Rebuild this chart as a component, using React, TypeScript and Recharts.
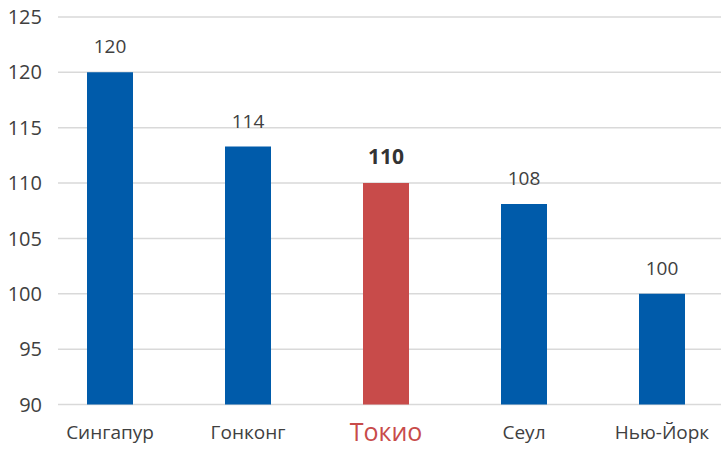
import { BarChart, Bar, XAxis, YAxis, CartesianGrid, Cell, LabelList } from 'recharts'

const cities = ['Сингапур', 'Гонконг', 'Токио', 'Сеул', 'Нью-Йорк']
const values = [120, 113.3, 110, 108.1, 100]
const valueLabels = ['120', '114', '110', '108', '100']
const highlightCity = 'Токио'
const yTicks = [90, 95, 100, 105, 110, 115, 120, 125]

const BLUE = '#005BAA'
const RED = '#C84B4A'
const TEXT = '#404040'
const FONT = '"Open Sans", "Noto Sans", sans-serif'

const chartData = cities.map((city, i) => ({
  city,
  value: values[i],
  label: valueLabels[i],
}))

function CityTick(props: any) {
  const { x, y, payload } = props
  const isHighlight = payload.value === highlightCity
  return (
    <text
      x={x}
      y={isHighlight ? y + 34 : y + 32}
      textAnchor="middle"
      fill={isHighlight ? RED : TEXT}
      fontSize={isHighlight ? 25 : 19}
      fontFamily={FONT}
    >
      {payload.value}
    </text>
  )
}

function ValueLabel(props: any) {
  const { x, y, width, index } = props
  const isHighlight = cities[index] === highlightCity
  return (
    <text
      x={x + width / 2}
      y={y - 19}
      textAnchor="middle"
      fill={isHighlight ? '#333333' : TEXT}
      fontSize={isHighlight ? 21 : 19}
      fontWeight={isHighlight ? 700 : 400}
      fontFamily={FONT}
    >
      {valueLabels[index]}
    </text>
  )
}

export default function App() {
  return (
    <div style={{ position: 'absolute', left: 0, top: 0, width: 721, height: 450, overflow: 'hidden', background: '#fff' }}>
      <BarChart
        width={731}
        height={450}
        data={chartData}
        margin={{ top: 17, right: 0, bottom: 0, left: 0 }}
      >
        <CartesianGrid vertical={false} stroke="#d9d9d9" strokeWidth={1.5} />
        <XAxis
          dataKey="city"
          axisLine={false}
          tickLine={false}
          tickSize={0}
          height={45.5}
          interval={0}
          padding={{ left: -17, right: 0 }}
          tick={<CityTick />}
        />
        <YAxis
          domain={[90, 125]}
          ticks={yTicks}
          axisLine={false}
          tickLine={false}
          tickSize={0}
          tickMargin={16}
          width={58}
          tick={{ fill: TEXT, fontSize: 20, fontFamily: FONT }}
        />
        <Bar dataKey="value" barSize={46} isAnimationActive={false}>
          {chartData.map((d) => (
            <Cell key={d.city} fill={d.city === highlightCity ? RED : BLUE} />
          ))}
          <LabelList dataKey="label" content={<ValueLabel />} />
        </Bar>
      </BarChart>
    </div>
  )
}
